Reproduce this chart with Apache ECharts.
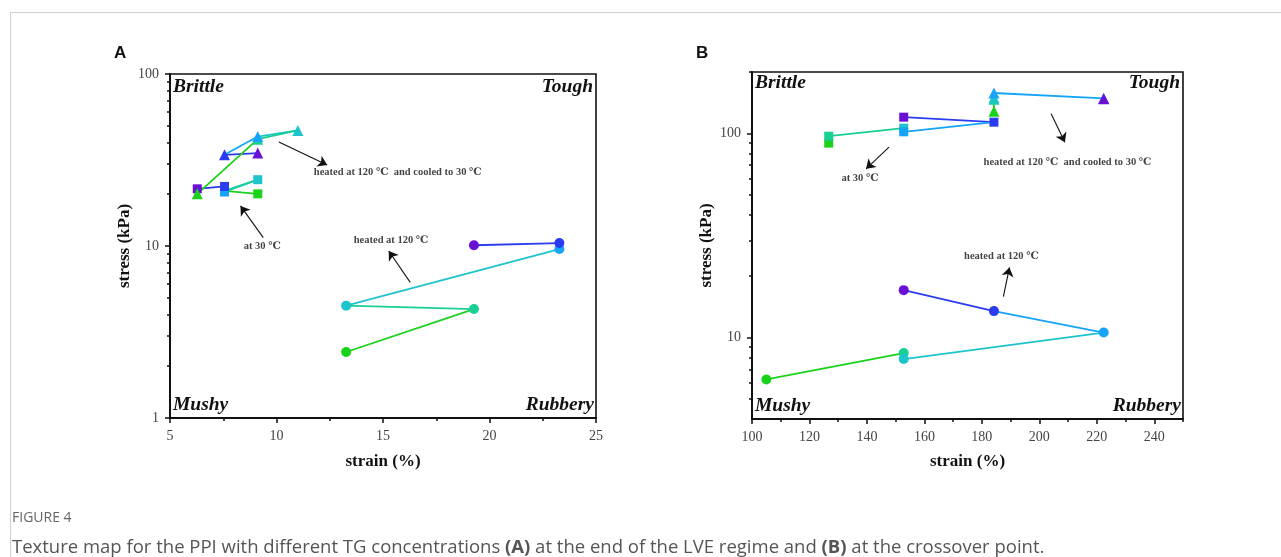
<!DOCTYPE html>
<html>
<head>
<meta charset="utf-8">
<script src="https://cdn.jsdelivr.net/npm/echarts@6/dist/echarts.min.js"></script>
<style>html,body{margin:0;padding:0;background:#fff}#c{width:1281px;height:557px}</style>
</head>
<body>
<div id="c"></div>
<script>
// Concentration order (each colour is one TG concentration), polyline connects them in order
const concColors = ['#6a10d4', '#2b3cf0', '#16a4f8', '#1ec4cc', '#18cf94', '#1ad21a'];

// Panel A: end of LVE regime
const A_squareX = [6.28, 7.56, 7.56, 9.12, 7.56, 9.12];
const A_squareY = [21.5, 22.2, 20.6, 24.3, 20.9, 20.1];
const A_triX = [9.12, 7.56, 9.12, 11.0, 9.12, 6.28];
const A_triY = [34.7, 33.9, 43.3, 47.0, 41.8, 20.1];
const A_circX = [19.27, 23.28, 23.28, 13.27, 19.27, 13.27];
const A_circY = [10.1, 10.4, 9.6, 4.5, 4.3, 2.42];

// Panel B: crossover point
const B_squareX = [152.8, 184.2, 152.8, 152.8, 126.7, 126.7];
const B_squareY = [120.2, 113.6, 101.9, 106.2, 97.0, 89.7];
const B_triX = [222.4, 222.4, 184.2, 184.2, 184.2, 184.2];
const B_triY = [147.9, 148.5, 157.8, 149.6, 147.0, 128.5];
const B_circX = [152.8, 184.2, 222.4, 152.8, 152.8, 105.0];
const B_circY = [17.1, 13.5, 10.6, 7.86, 8.41, 6.25];

// Tick labels
const A_xTicks = [5, 10, 15, 20, 25];
const A_yTicks = [1, 10, 100];
const B_xTicks = [100, 120, 140, 160, 180, 200, 220, 240];
const B_xMinor = [110, 130, 150, 170, 190, 210, 230, 250];
const B_yTicks = [10, 100];
const A_yMinor = [2,3,4,5,6,7,8,9,20,30,40,50,60,70,80,90];
const B_yMinor = [5,6,7,8,9,20,30,40,50,60,70,80,90,200];

// Annotations (text and arrows, in data coordinates)
const A_notes = [
  {text: 'heated at 120 ℃  and cooled to 30 ℃', at: [15.69, 26.9], from: [10.11, 40.2], to: [12.38, 29.6]},
  {text: 'at 30 ℃', at: [9.33, 9.9], from: [9.38, 11.18], to: [8.31, 17.1]},
  {text: 'heated at 120 ℃', at: [15.38, 10.8], from: [16.28, 6.15], to: [15.27, 9.35]}
];
const B_notes = [
  {text: 'heated at 120 ℃  and cooled to 30 ℃', at: [209.8, 72.6], from: [204.1, 124.9], to: [208.9, 90.6]},
  {text: 'at 30 ℃', at: [137.6, 60.2], from: [147.7, 85.7], to: [139.7, 67.1]},
  {text: 'heated at 120 ℃', at: [186.8, 25.1], from: [187.5, 15.9], to: [189.6, 22.1]}
];

const serif = '"Liberation Serif", "DejaVu Serif", serif';
const AX = {color: '#111', width: 2};

function shapeSeries(xs, ys, symbol, size, xi, yi) {
  const out = [];
  for (let i = 1; i < xs.length; i++) {
    out.push({
      type: 'line', xAxisIndex: xi, yAxisIndex: yi, silent: true,
      data: [[xs[i-1], ys[i-1]], [xs[i], ys[i]]],
      symbol: 'none', lineStyle: {color: concColors[i], width: 1.8}, z: 2
    });
  }
  for (let i = xs.length - 1; i >= 0; i--) {
    out.push({
      type: 'scatter', xAxisIndex: xi, yAxisIndex: yi, silent: true,
      data: [[xs[i], ys[i]]], symbol: symbol, symbolSize: size,
      itemStyle: {color: concColors[i], opacity: 1}, z: 3
    });
  }
  return out;
}

function noteSeries(notes, xi, yi) {
  return {
    type: 'scatter', xAxisIndex: xi, yAxisIndex: yi, silent: true,
    symbolSize: 0,
    data: notes.map(n => ({value: n.at, name: n.text})),
    label: {show: true, position: 'inside', formatter: '{b}', color: '#111',
      fontFamily: serif, fontWeight: 'bold', fontSize: 10.5},
    markLine: {
      silent: true, animation: false,
      symbol: ['none', 'arrow'], symbolSize: 9,
      label: {show: false},
      lineStyle: {color: '#111', width: 1.1, type: 'solid'},
      emphasis: {disabled: true},
      data: notes.map(n => [{coord: n.from}, {coord: n.to}])
    },
    z: 4
  };
}

const tickLbl = {color: '#444', fontFamily: serif, fontSize: 14};
const nameStyle = {color: '#111', fontFamily: serif, fontWeight: 'bold', fontSize: 17};
const TICK = {color: '#111', width: 1.5};

const option = {
  animation: false,
  grid: [
    {left: 170, top: 74, width: 426, height: 344, show: true, borderColor: '#111', borderWidth: 1.6, backgroundColor: 'transparent'},
    {left: 752, top: 72, width: 431, height: 347, show: true, borderColor: '#111', borderWidth: 1.6, backgroundColor: 'transparent'}
  ],
  xAxis: [
    {gridIndex: 0, type: 'value', position: 'bottom', min: 5, max: 25, interval: 5,
      axisLine: {lineStyle: AX}, axisTick: {length: 5, lineStyle: TICK, customValues: A_xTicks},
      minorTick: {show: true, splitNumber: 2, length: 3, lineStyle: TICK},
      splitLine: {show: false}, minorSplitLine: {show: false},
      axisLabel: Object.assign({margin: 11, customValues: A_xTicks}, tickLbl),
      name: 'strain (%)', nameLocation: 'middle', nameGap: 35, nameTextStyle: nameStyle},
    {gridIndex: 1, type: 'value', position: 'bottom', min: 100, max: 250, interval: 10,
      axisLine: {lineStyle: AX}, axisTick: {length: 5, lineStyle: TICK, customValues: B_xTicks},
      splitLine: {show: false},
      axisLabel: Object.assign({margin: 11, customValues: B_xTicks}, tickLbl),
      name: 'strain (%)', nameLocation: 'middle', nameGap: 34, nameTextStyle: nameStyle},
    {gridIndex: 1, type: 'value', position: 'bottom', offset: 0, min: 100, max: 250, interval: 10,
      axisLine: {show: false}, axisTick: {length: 3, lineStyle: TICK, customValues: B_xMinor},
      splitLine: {show: false}, axisLabel: {show: false}}
  ],
  yAxis: [
    {gridIndex: 0, type: 'log', position: 'left', logBase: 10, min: 1, max: 100,
      axisLine: {lineStyle: AX}, axisTick: {length: 5, lineStyle: TICK, customValues: A_yTicks},
      splitLine: {show: false},
      axisLabel: Object.assign({margin: 11, customValues: A_yTicks}, tickLbl),
      name: 'stress (kPa)', nameLocation: 'middle', nameGap: 37, nameRotate: 90, nameTextStyle: nameStyle},
    {gridIndex: 0, type: 'log', position: 'left', offset: 0, logBase: 10, min: 1, max: 100,
      axisLine: {show: false}, axisTick: {length: 3, lineStyle: TICK, customValues: A_yMinor},
      splitLine: {show: false}, axisLabel: {show: false}},
    {gridIndex: 1, type: 'log', position: 'left', logBase: 10, min: 4, max: 200,
      axisLine: {lineStyle: AX}, axisTick: {length: 5, lineStyle: TICK, customValues: B_yTicks},
      splitLine: {show: false},
      axisLabel: Object.assign({margin: 11, customValues: B_yTicks}, tickLbl),
      name: 'stress (kPa)', nameLocation: 'middle', nameGap: 37, nameRotate: 90, nameTextStyle: nameStyle},
    {gridIndex: 1, type: 'log', position: 'left', offset: 0, logBase: 10, min: 4, max: 200,
      axisLine: {show: false}, axisTick: {length: 3, lineStyle: TICK, customValues: B_yMinor},
      splitLine: {show: false}, axisLabel: {show: false}}
  ],
  series: [].concat(
    shapeSeries(A_squareX, A_squareY, 'rect', 9, 0, 0),
    shapeSeries(A_triX, A_triY, 'triangle', 11, 0, 0),
    shapeSeries(A_circX, A_circY, 'circle', 10, 0, 0),
    shapeSeries(B_squareX, B_squareY, 'rect', 9, 1, 2),
    shapeSeries(B_triX, B_triY, 'triangle', 11, 1, 2),
    shapeSeries(B_circX, B_circY, 'circle', 10, 1, 2),
    [noteSeries(A_notes, 0, 0), noteSeries(B_notes, 1, 2)]
  ),
  graphic: [
    {type: 'polyline', shape: {points: [[10.5, 557], [10.5, 12.5], [1281, 12.5]]}, style: {stroke: '#cfcfcf', lineWidth: 1, fill: null}, silent: true},
    {type: 'text', left: 114, top: 45, style: {text: 'A', font: 'bold 17px "Liberation Sans", Arial, sans-serif', fill: '#111'}},
    {type: 'text', left: 696, top: 45, style: {text: 'B', font: 'bold 17px "Liberation Sans", Arial, sans-serif', fill: '#111'}},
    {type: 'text', left: 173, top: 77, style: {text: 'Brittle', font: 'italic bold 19.5px ' + serif, fill: '#111'}},
    {type: 'text', right: 1281 - 593, top: 77, style: {text: 'Tough', font: 'italic bold 19.5px ' + serif, fill: '#111'}},
    {type: 'text', left: 173, top: 395, style: {text: 'Mushy', font: 'italic bold 19.5px ' + serif, fill: '#111'}},
    {type: 'text', right: 1281 - 594, top: 395, style: {text: 'Rubbery', font: 'italic bold 19.5px ' + serif, fill: '#111'}},
    {type: 'text', left: 755, top: 73, style: {text: 'Brittle', font: 'italic bold 19.5px ' + serif, fill: '#111'}},
    {type: 'text', right: 1281 - 1180, top: 73, style: {text: 'Tough', font: 'italic bold 19.5px ' + serif, fill: '#111'}},
    {type: 'text', left: 755, top: 396, style: {text: 'Mushy', font: 'italic bold 19.5px ' + serif, fill: '#111'}},
    {type: 'text', right: 1281 - 1181, top: 396, style: {text: 'Rubbery', font: 'italic bold 19.5px ' + serif, fill: '#111'}},
    {type: 'text', left: 12, top: 511, style: {text: 'FIGURE 4', font: '14px "Open Sans", sans-serif', fill: '#666'}},
    {type: 'text', left: 12, top: 538, style: {
      text: 'Texture map for the PPI with different TG concentrations {b|(A)} at the end of the LVE regime and {b|(B)} at the crossover point.',
      font: '18.5px "Open Sans", sans-serif', fill: '#555',
      rich: {b: {fontFamily: '"Open Sans", sans-serif', fontSize: 18.5, fontWeight: 'bold', fill: '#555'}}
    }}
  ]
};

const chart = echarts.init(document.getElementById('c'), null, {renderer: 'canvas'});
chart.setOption(option);
</script>
</body>
</html>
